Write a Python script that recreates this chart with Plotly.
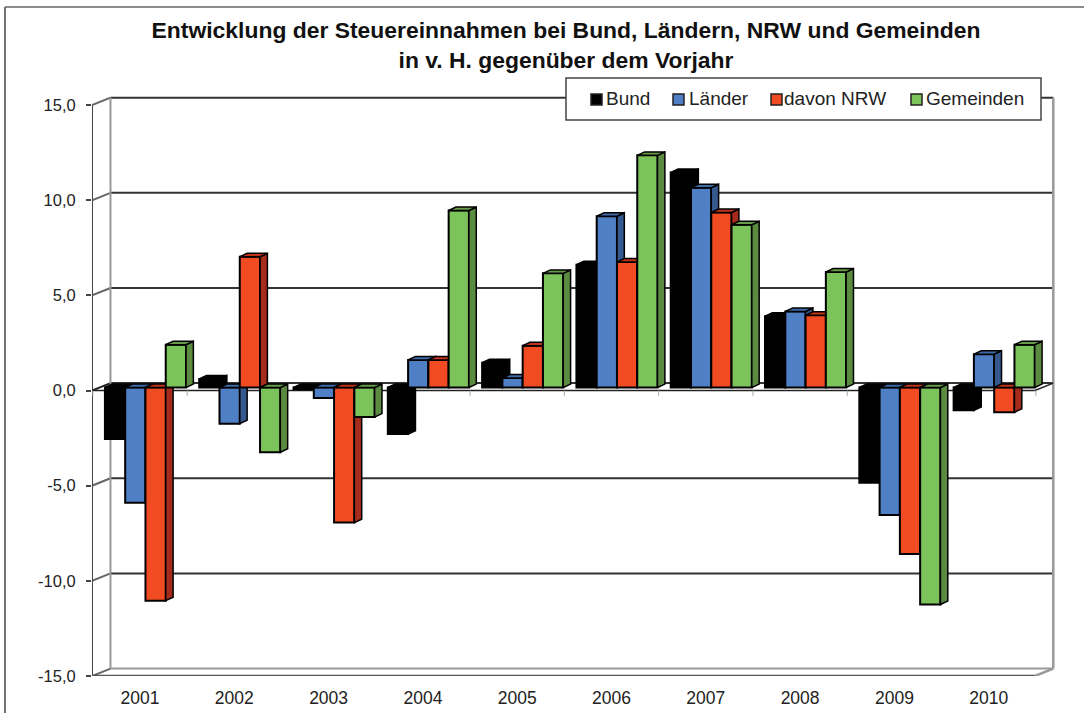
import plotly.graph_objects as go

W, H = 1084, 713
years = ["2001", "2002", "2003", "2004", "2005", "2006", "2007", "2008", "2009", "2010"]
bund = [-2.7, 0.45, -0.1, -2.45, 1.3, 6.45, 11.3, 3.75, -5.0, -1.2]
laender = [-6.05, -1.9, -0.55, 1.45, 0.5, 9.0, 10.5, 4.0, -6.7, 1.75]
nrw = [-11.2, 6.87, -7.1, 1.45, 2.2, 6.6, 9.2, 3.8, -8.75, -1.3]
gemeinden = [2.25, -3.4, -1.55, 9.3, 6.0, 12.2, 8.55, 6.07, -11.4, 2.25]
names = ["Bund", "Länder", "davon NRW", "Gemeinden"]
series = [bund, laender, nrw, gemeinden]
front_colors = ["#000000", "#4f7fc4", "#f04b23", "#7cc35c"]
side_colors = ["#000000", "#35588f", "#a52c1c", "#5b8b40"]
top_colors = ["#000000", "#3f6aa8", "#c2331c", "#669c48"]
y_ticks = [-15, -10, -5, 0, 5, 10, 15]
y_labels = ["-15,0", "-10,0", "-5,0", "0,0", "5,0", "10,0", "15,0"]
legend_swatch_px = [591, 673, 771, 911]
legend_text_px = [606, 689, 784, 926]

# axis frame (front plane) and the depth of the 3-D look, in axis units
x_rng = [-0.509, 9.756]
y_rng = [-15.0, 15.53]
wall_dx, wall_dy = 0.196, 0.39
plane_dx, plane_dy = 0.058, 0.16
bar_w = 0.215
bar_dx, bar_dy = 0.078, 0.18
n = len(years)
idx = list(range(n))

fig = go.Figure()
fig.add_trace(go.Scatter(x=[0, n - 1], y=[0, 0], mode="none", showlegend=False, hoverinfo="skip"))

for k, (name, vals) in enumerate(zip(names, series)):
    ax = k + 2
    xa, ya = f"x{ax}", f"y{ax}"
    off = (k - 2) * bar_w
    side_x, side_y, top_x, top_y = [], [], [], []
    for i, v in zip(idx, vals):
        r = i + off + bar_w
        l = i + off
        side_x += [r, r + bar_dx, r + bar_dx, r, r, None]
        side_y += [0, bar_dy, v + bar_dy, v, 0, None]
        t = max(v, 0)
        top_x += [l, l + bar_dx, r + bar_dx, r, l, None]
        top_y += [t, t + bar_dy, t + bar_dy, t, t, None]
    outline = dict(color="#000000", width=1.5)
    fig.add_trace(go.Scatter(x=side_x, y=side_y, xaxis=xa, yaxis=ya, mode="lines", fill="toself",
                             fillcolor=side_colors[k], line=outline, showlegend=False, hoverinfo="skip"))
    fig.add_trace(go.Scatter(x=top_x, y=top_y, xaxis=xa, yaxis=ya, mode="lines", fill="toself",
                             fillcolor=top_colors[k], line=outline, showlegend=False, hoverinfo="skip"))
    fig.add_trace(go.Bar(x=idx, y=vals, name=name, xaxis=xa, yaxis=ya, width=bar_w, offset=off, showlegend=False,
                         marker=dict(color=front_colors[k], line=dict(color="#000000", width=2))))

shapes = []
def seg(x0, y0, x1, y1, color="#333333", width=2):
    shapes.append(dict(type="line", xref="x", yref="y", x0=x0, y0=y0, x1=x1, y1=y1,
                       layer="below", line=dict(color=color, width=width)))

x_l, x_r = -0.509, 9.489
for v in y_ticks:
    c = "#999999" if v == -15 else "#333333"
    seg(x_l + wall_dx, v + wall_dy, x_r + wall_dx, v + wall_dy, c)
    seg(x_l, v, x_l + wall_dx, v + wall_dy, "#666666" if v != 0 else "#222222")
seg(x_l + wall_dx, -15 + wall_dy, x_l + wall_dx, 15 + wall_dy, "#999999")
seg(x_r + wall_dx, -15 + wall_dy, x_r + wall_dx, 15 + wall_dy, "#999999", 2.5)
seg(x_r, -15, x_r + wall_dx, -15 + wall_dy, "#999999", 2.5)
seg(x_l, -15, x_l, 15, "#444444", 2)
seg(x_l, -15, x_r, -15, "#555555", 2.5)
seg(x_l, 0, x_r, 0, "#222222", 1.5)
seg(x_r, 0, x_r + wall_dx, wall_dy, "#222222", 1.5)
for i in range(n + 1):
    shapes.append(dict(type="line", xref="x", yref="y", x0=i - 0.5, x1=i - 0.5, y0=0, y1=-0.28,
                       layer="below", line=dict(color="#aaaaaa", width=1)))

def px(x):
    return x / W
def py(y):
    return 1 - y / H

# page frame
shapes.append(dict(type="line", xref="paper", yref="paper", x0=px(5), x1=px(5), y0=0, y1=py(7),
                   line=dict(color="#444444", width=1.5)))
shapes.append(dict(type="line", xref="paper", yref="paper", x0=px(5), x1=1, y0=py(7), y1=py(7),
                   line=dict(color="#666666", width=1.5)))
# legend box
shapes.append(dict(type="rect", xref="paper", yref="paper", x0=px(566), x1=px(1041), y0=py(120), y1=py(78),
                   fillcolor="white", line=dict(color="#444444", width=1.5)))
annotations = []
for k, name in enumerate(names):
    shapes.append(dict(type="rect", xref="paper", yref="paper",
                       x0=px(legend_swatch_px[k]), x1=px(legend_swatch_px[k] + 11), y0=py(105), y1=py(94),
                       fillcolor=front_colors[k], line=dict(color="#222222", width=1.5)))
    annotations.append(dict(xref="paper", yref="paper", x=px(legend_text_px[k]), y=py(99), xanchor="left",
                            yanchor="middle", text=name, showarrow=False, xshift=-2,
                            font=dict(size=19, color="#222222")))

dom_x = [92 / W, 1060 / W]
dom_y = [1 - 676 / H, 1 - 95 / H]
font = "Liberation Sans, Arial, sans-serif"
layout = dict(
    width=W, height=H, margin=dict(l=0, r=0, t=0, b=0, autoexpand=False), autosize=False,
    paper_bgcolor="white", plot_bgcolor="rgba(0,0,0,0)",
    font=dict(family=font, color="#222222", size=16),
    barmode="overlay", shapes=shapes, annotations=annotations, showlegend=False,
    title=dict(text="<b>Entwicklung der Steuereinnahmen bei Bund, Ländern, NRW und Gemeinden<br>in v. H. gegenüber dem Vorjahr</b>",
               x=566 / W, xanchor="center", y=1 - 38 / H, yanchor="middle",
               font=dict(family=font, size=22.9, color="#111111")),
    xaxis=dict(domain=dom_x, range=x_rng, tickmode="array", tickvals=idx, ticktext=years,
               showgrid=False, zeroline=False, showline=False, ticks="", ticklabelstandoff=9,
               fixedrange=True, tickfont=dict(size=17.5)),
    yaxis=dict(domain=dom_y, range=y_rng, tickmode="array", tickvals=y_ticks, ticktext=y_labels,
               showgrid=False, zeroline=False, showline=False, ticks="outside", ticklen=5, tickwidth=1.5,
               ticklabelstandoff=7, tickcolor="#444444", fixedrange=True, tickfont=dict(size=16.5)),
)
for k in range(4):
    ax = k + 2
    layout[f"xaxis{ax}"] = dict(domain=dom_x, overlaying="x", visible=False, fixedrange=True,
                                range=[x_rng[0] - plane_dx, x_rng[1] - plane_dx])
    layout[f"yaxis{ax}"] = dict(domain=dom_y, overlaying="y", visible=False, fixedrange=True,
                                range=[y_rng[0] - plane_dy, y_rng[1] - plane_dy])
fig.update_layout(**layout)
fig.write_html("out.html", config={"displayModeBar": False},
               post_script="document.body.style.margin='0';document.documentElement.style.overflow='hidden';")
